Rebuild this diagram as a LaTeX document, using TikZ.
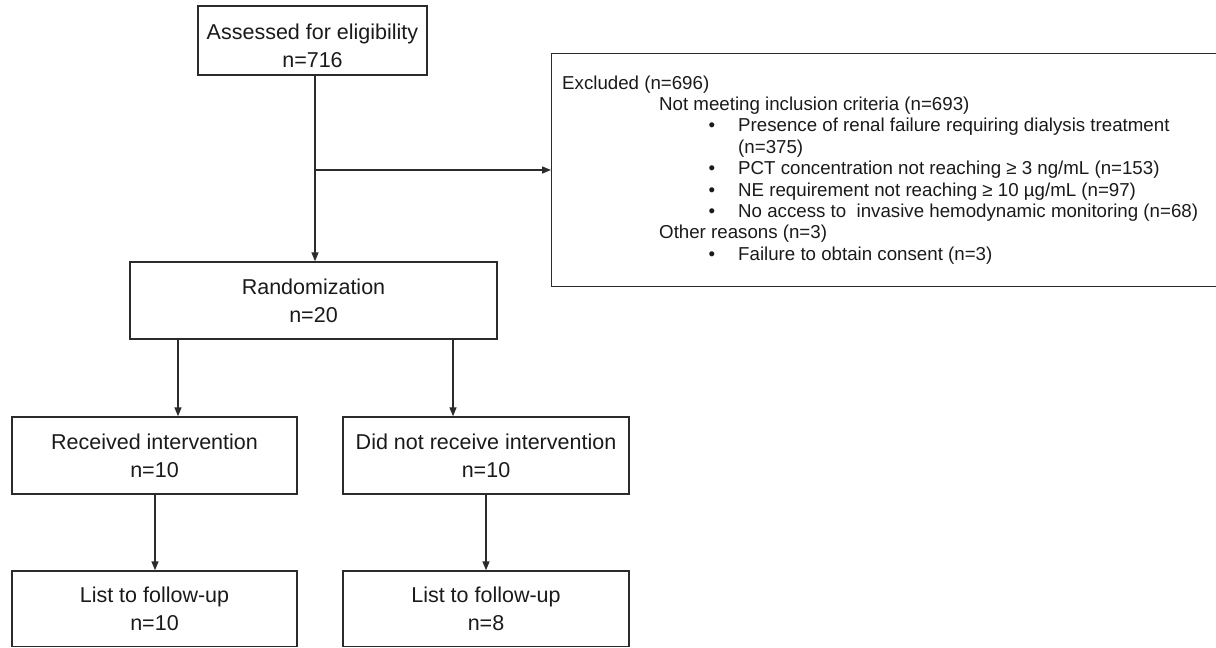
\documentclass[tikz,border=0pt]{standalone}
\usepackage{fontspec}
\setmainfont{Liberation Sans}
\usetikzlibrary{arrows.meta}
\definecolor{linec}{HTML}{2B2B2B}
\definecolor{textc}{HTML}{1A1A1A}
\begin{document}
\begin{tikzpicture}[x=1pt,y=-1pt,
  boxnode/.style={draw=linec, line width=1.4pt, inner sep=0pt, align=center,
    font=\fontsize{21.5}{28}\selectfont, text=textc},
  arr/.style={draw=linec, line width=1.4pt, -{Triangle[length=9pt,width=7pt]}},
  exl/.style={anchor=base west, inner sep=0pt, font=\fontsize{18.7}{21.4}\selectfont, text=textc},
  bul/.style={anchor=base, inner sep=0pt, font=\fontsize{18.7}{21.4}\selectfont, text=textc}]
\useasboundingbox (0,0) rectangle (1216,648);
% main boxes
\node[boxnode, minimum width=229pt, minimum height=69pt] (assess) at (312.5,40.5) {\rule{0pt}{26pt}Assessed for eligibility\\n=716};
\node[boxnode, minimum width=367pt, minimum height=77pt] (rand) at (313.5,300.5) {Randomization\\n=20};
\node[boxnode, minimum width=285pt, minimum height=77pt] (recv) at (154.5,455.5) {Received intervention\\n=10};
\node[boxnode, minimum width=286pt, minimum height=77pt] (norecv) at (486,455.5) {Did not receive intervention\\n=10};
\node[boxnode, minimum width=285pt, minimum height=75.5pt] (fua) at (154.5,608.75) {List to follow-up\\n=10};
\node[boxnode, minimum width=286pt, minimum height=75.5pt] (fub) at (486,608.75) {List to follow-up\\n=8};
% excluded box
\node[draw=linec, line width=1.4pt, inner sep=0pt, minimum width=669pt, minimum height=233pt, anchor=north west] (excl) at (551,53) {};
\node[exl] (e1) at (562,89) {Excluded (n=696)};
\node[exl] (e2) at (659,110.4) {Not meeting inclusion criteria (n=693)};
\node[bul] (b3) at (712,131.8) {•};
\node[exl] (e3) at (738,131.8) {Presence of renal failure requiring dialysis treatment};
\node[exl] (e4) at (738,153.2) {(n=375)};
\node[bul] (b5) at (712,174.6) {•};
\node[exl] (e5) at (738,174.6) {PCT concentration not reaching ≥ 3 ng/mL (n=153)};
\node[bul] (b6) at (712,196) {•};
\node[exl] (e6) at (738,196) {NE requirement not reaching ≥ 10 µg/mL (n=97)};
\node[bul] (b7) at (712,217.4) {•};
\node[exl] (e7) at (738,217.4) {No access to\ \ invasive hemodynamic monitoring (n=68)};
\node[exl] (e8) at (659,238.8) {Other reasons (n=3)};
\node[bul] (b9) at (712,260.2) {•};
\node[exl] (e9) at (738,260.2) {Failure to obtain consent (n=3)};
% connectors
\coordinate (split) at (315,170);
\coordinate (xa) at (178,0);
\coordinate (xb) at (453,0);
\coordinate (xc) at (155,0);
\draw[arr] (assess.south -| split) -- (rand.north -| split);
\draw[arr] (split) -- (excl.west |- split);
\draw[arr] (rand.south -| xa) -- (recv.north -| xa);
\draw[arr] (rand.south -| xb) -- (norecv.north -| xb);
\draw[arr] (recv.south -| xc) -- (fua.north -| xc);
\draw[arr] (norecv.south) -- (fub.north);
\end{tikzpicture}
\end{document}
